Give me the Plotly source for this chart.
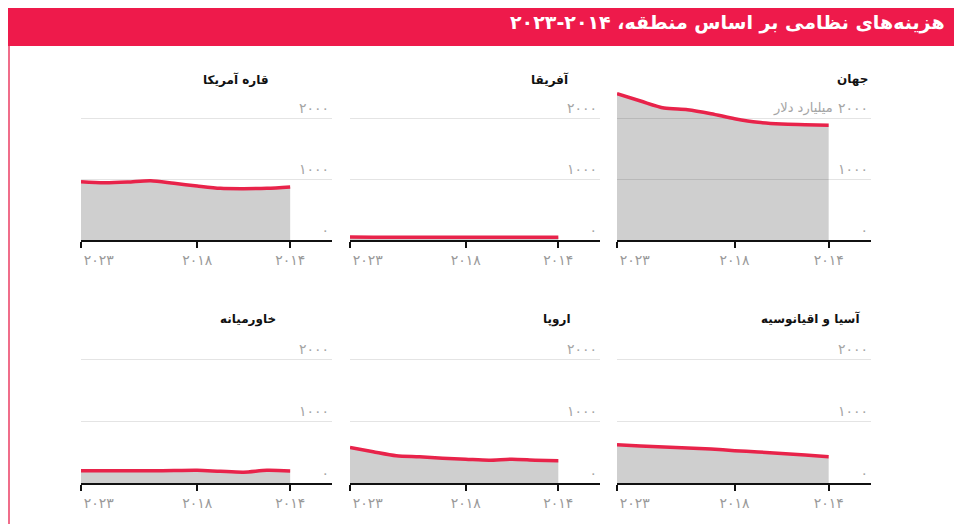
import plotly.graph_objects as go

W, H = 962, 524

years = [2014, 2015, 2016, 2017, 2018, 2019, 2020, 2021, 2022, 2023]

world = [1880, 1891, 1902, 1929, 1989, 2071, 2136, 2163, 2278, 2398]
africa = [47, 47, 46, 45, 45, 46, 47, 47, 47, 50]
americas = [869, 847, 842, 847, 885, 929, 973, 951, 940, 956]
asia_oceania = [422, 450, 476, 500, 522, 548, 566, 582, 598, 616]
europe = [357, 368, 384, 368, 384, 400, 422, 438, 503, 573]
middle_east = [194, 204, 175, 188, 204, 200, 198, 197, 198, 199]

panel_titles = ["جهان", "آفریقا", "قاره آمریکا", "آسیا و اقیانوسیه", "اروپا", "خاورمیانه"]
panel_values = [world, africa, americas, asia_oceania, europe, middle_east]

title_text = "هزینه\u200cهای نظامی بر اساس منطقه، ۲۰۱۴-۲۰۲۳"
unit_text = "میلیارد دلار"
x_tickvals = [2023, 2018, 2014]
x_ticktext = ["\u2007\u2007\u2007\u2007۲۰۲۳", "۲۰۱۸", "۲۰۱۴"]
y_tickvals = [0, 1000, 2000]
y_ticktext = ["۰", "۱۰۰۰", "۲۰۰۰"]

FONT = "DejaVu Sans"
RED = "#ee1a4b"
LINE = "#e8234a"
FILL = "rgba(0,0,0,0.19)"

# layout in page pixels (the page adds an 8px body margin)
OFF = 8
cols = [(617, 871), (350, 600), (81, 332)]          # RTL: first panel on the right
rows = [(87.5, 240), (328, 483)]                    # (top, baseline)
title_pos = [(870, 79), (571, 79), (271, 79), (862, 319), (573, 319), (278, 319)]

def px(x):
    return (x - OFF) / W

def py(y):
    return 1 - (y - OFF) / H

fig = go.Figure()
layout_axes = {}
annotations = []

for i, (name, vals) in enumerate(zip(panel_titles, panel_values)):
    r, c = divmod(i, 3)
    n = i + 1
    xa = "x" if n == 1 else f"x{n}"
    ya = "y" if n == 1 else f"y{n}"
    fig.add_trace(go.Scatter(
        x=years, y=vals, xaxis=xa, yaxis=ya,
        mode="lines", line=dict(color=LINE, width=3.5, shape="spline", smoothing=0.8),
        fill="tozeroy", fillcolor=FILL, hoverinfo="skip", showlegend=False,
    ))
    x0, x1 = cols[c]
    top, base = rows[r]
    layout_axes[f"xaxis{'' if n == 1 else n}"] = dict(
        domain=[px(x0), px(x1)], anchor=ya, range=[2023, 2012.2],
        tickvals=x_tickvals, ticktext=x_ticktext, automargin=False,
        showline=True, linecolor="#111", linewidth=1.5,
        ticks="outside", ticklen=6, tickwidth=1.5, tickcolor="#111",
        showgrid=False, zeroline=False,
        tickfont=dict(family=FONT, size=14, color="#9a9a9a"),
        fixedrange=True,
    )
    layout_axes[f"yaxis{'' if n == 1 else n}"] = dict(
        domain=[py(base), py(top)], anchor=xa, range=[0, 2500], side="right",
        tickvals=y_tickvals, ticktext=y_ticktext,
        ticklabelposition="inside top", ticks="", automargin=False,
        showgrid=True, gridcolor="#e4e4e4", gridwidth=1,
        zeroline=False, showline=False,
        tickfont=dict(family=FONT, size=14, color="#a5a5a5"),
        fixedrange=True,
    )
    tx, ty = title_pos[i]
    annotations.append(dict(
        text=f"<b>{name}</b>", xref="paper", yref="paper", x=px(tx), y=py(ty),
        xanchor="right", yanchor="middle", showarrow=False,
        font=dict(family=FONT, size=12, color="#111"),
    ))

# unit label next to the top tick of the first panel
annotations.append(dict(
    text=unit_text, xref="x", yref="y", x=2013.75, y=2000,
    xanchor="right", yanchor="bottom", showarrow=False, yshift=0,
    font=dict(family=FONT, size=13, color="#a5a5a5"),
))

annotations.append(dict(
    text=f"<b>{title_text}</b>", xref="paper", yref="paper", x=px(947), y=py(23),
    xanchor="right", yanchor="middle", showarrow=False,
    font=dict(family=FONT, size=19, color="white"),
))

shapes = [
    dict(type="rect", xref="paper", yref="paper", x0=px(2), x1=px(961), y0=py(46), y1=py(4),
         fillcolor=RED, line=dict(width=0), layer="below"),
    dict(type="line", xref="paper", yref="paper", x0=px(9), x1=px(9), y0=py(46), y1=py(540),
         line=dict(color="#f06d8a", width=2)),
    dict(type="line", xref="paper", yref="paper", x0=px(960.5), x1=px(960.5), y0=py(46), y1=py(540),
         line=dict(color="#f2a5bb", width=1.5)),
]

fig.update_layout(
    width=W, height=H, margin=dict(l=0, r=0, t=0, b=0, autoexpand=False),
    paper_bgcolor="white", plot_bgcolor="white",
    font=dict(family=FONT), annotations=annotations, shapes=shapes,
    **layout_axes,
)

fig.write_html("out.html")
